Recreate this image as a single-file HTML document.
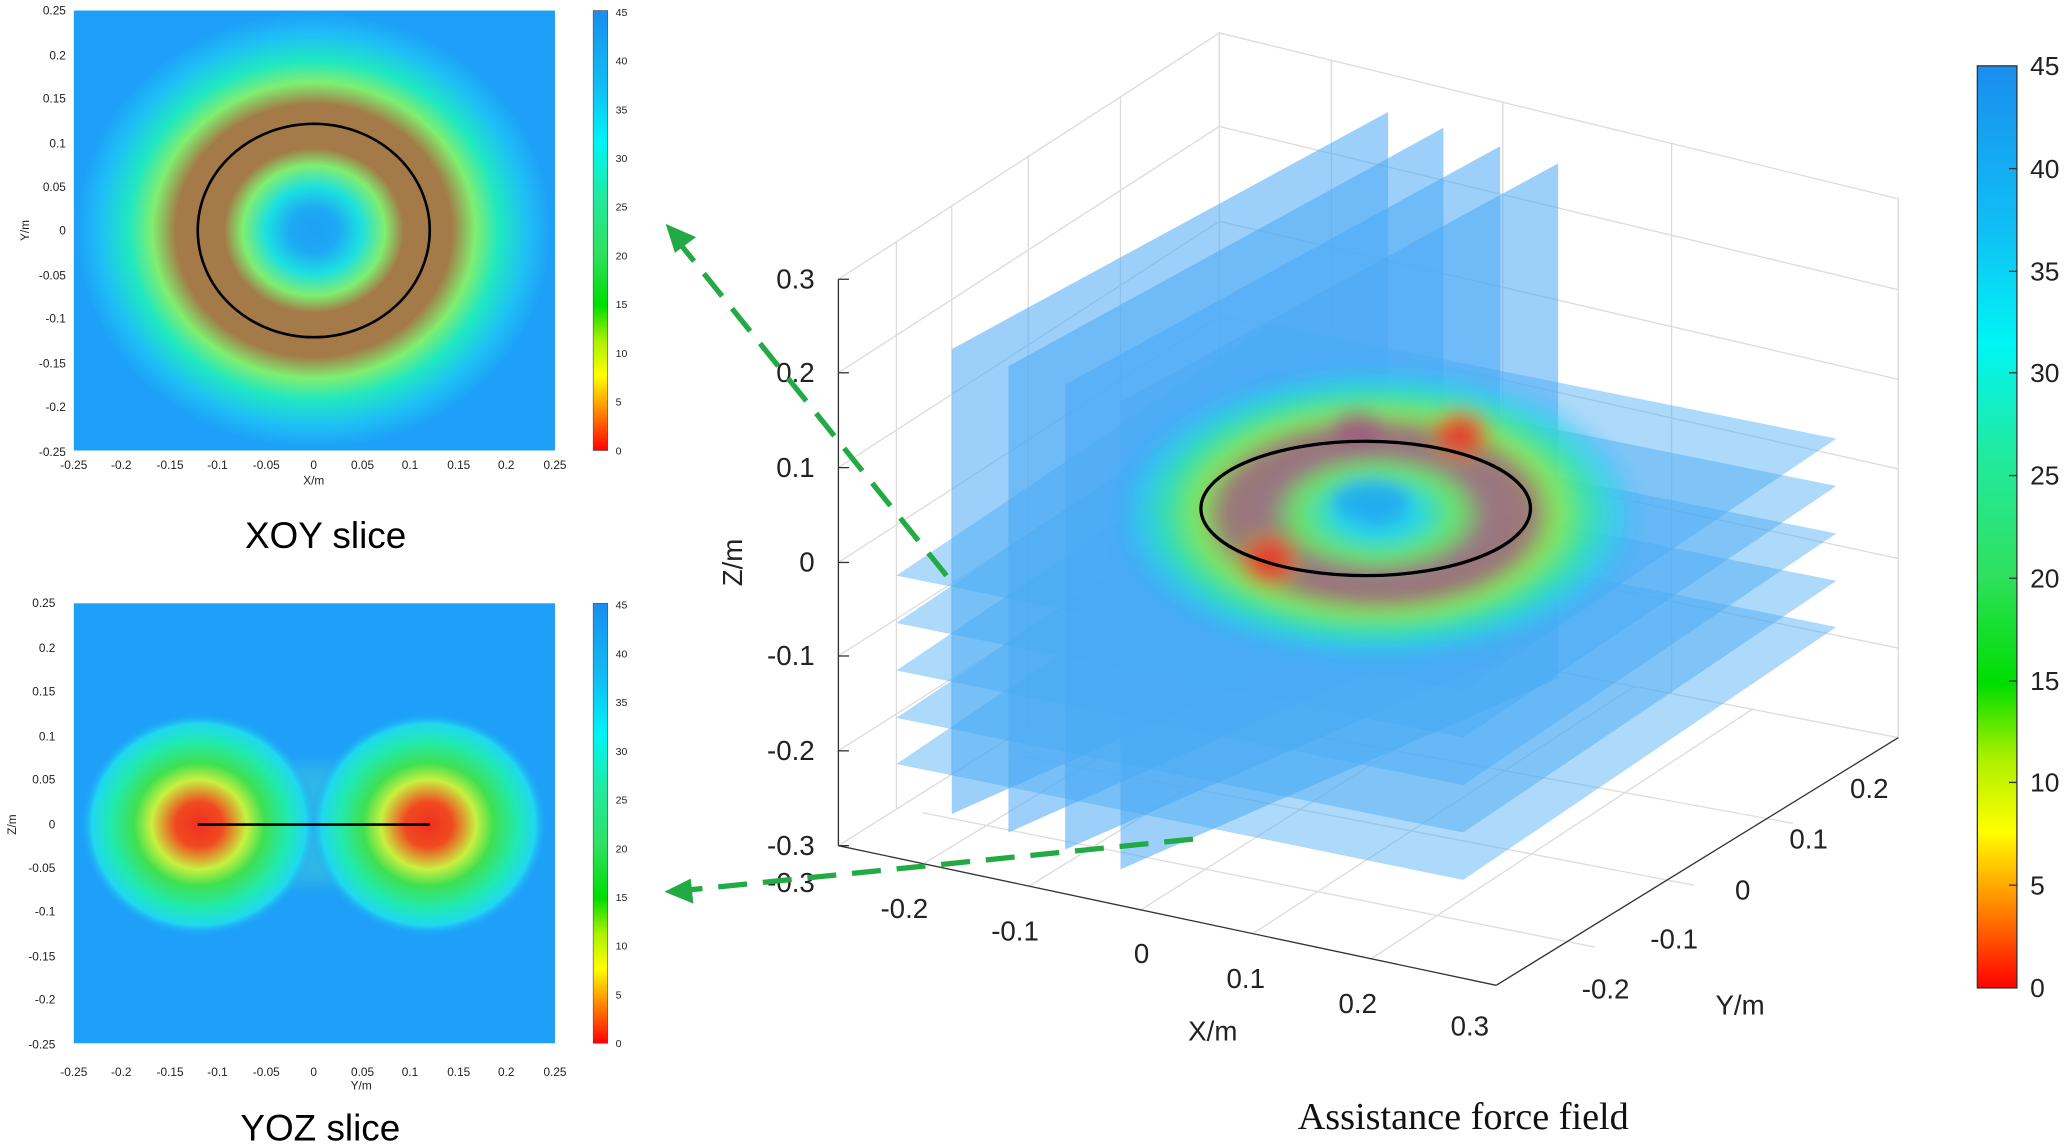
<!DOCTYPE html>
<html><head><meta charset="utf-8">
<style>html,body{margin:0;padding:0;background:#fff}svg{display:block}</style>
</head><body>
<svg width="2067" height="1146" viewBox="0 0 1568 870" preserveAspectRatio="none" xmlns="http://www.w3.org/2000/svg" font-family="Liberation Sans, Arial, sans-serif">
<defs>
<linearGradient id="cmap" x1="0" y1="1" x2="0" y2="0">
<stop offset="0" stop-color="#ff0000"/>
<stop offset="0.09" stop-color="#ff8a00"/>
<stop offset="0.17" stop-color="#ffff00"/>
<stop offset="0.25" stop-color="#aaf000"/>
<stop offset="0.33" stop-color="#00dd00"/>
<stop offset="0.45" stop-color="#30e060"/>
<stop offset="0.58" stop-color="#20eaa0"/>
<stop offset="0.7" stop-color="#00f5f5"/>
<stop offset="0.82" stop-color="#10c0f5"/>
<stop offset="1" stop-color="#1a8eee"/>
</linearGradient>
<radialGradient id="xoy" cx="0.5" cy="0.5" r="0.5">
<stop offset="0" stop-color="#1ea0f5"/>
<stop offset="0.1" stop-color="#1ea8f5"/>
<stop offset="0.2" stop-color="#1ce0e0"/>
<stop offset="0.3" stop-color="#80ee70"/>
<stop offset="0.38" stop-color="#a37a48"/>
<stop offset="0.58" stop-color="#a37a48"/>
<stop offset="0.68" stop-color="#80ee70"/>
<stop offset="0.78" stop-color="#20e8c0"/>
<stop offset="0.9" stop-color="#1ec0f5"/>
<stop offset="1" stop-color="#1ea0f8"/>
</radialGradient>
<radialGradient id="blob" cx="0.5" cy="0.5" r="0.5">
<stop offset="0" stop-color="#ee3020"/>
<stop offset="0.2" stop-color="#f04a20"/>
<stop offset="0.4" stop-color="#c8f040"/>
<stop offset="0.55" stop-color="#40e050"/>
<stop offset="0.75" stop-color="#20eab0"/>
<stop offset="0.9" stop-color="#20d8f0"/>
<stop offset="1" stop-color="#1ea0f8" stop-opacity="0"/>
</radialGradient>
<radialGradient id="ring3d" cx="0.5" cy="0.5" r="0.5">
<stop offset="0" stop-color="#1ea8f5"/>
<stop offset="0.15" stop-color="#20e0e8"/>
<stop offset="0.3" stop-color="#70ee50"/>
<stop offset="0.42" stop-color="#a86a70"/>
<stop offset="0.58" stop-color="#a87060"/>
<stop offset="0.68" stop-color="#90f040"/>
<stop offset="0.8" stop-color="#30e8a0"/>
<stop offset="0.92" stop-color="#20d8f0" stop-opacity="0.6"/>
<stop offset="1" stop-color="#1ea0f8" stop-opacity="0"/>
</radialGradient>
<radialGradient id="red" cx="0.5" cy="0.5" r="0.5">
<stop offset="0" stop-color="#e83020"/>
<stop offset="0.5" stop-color="#e85030" stop-opacity="0.8"/>
<stop offset="1" stop-color="#80f040" stop-opacity="0"/>
</radialGradient>
<filter id="bl" x="-20%" y="-20%" width="140%" height="140%"><feGaussianBlur stdDeviation="6"/></filter>
</defs>

<!-- XOY panel -->
<rect x="56" y="8" width="365" height="334" fill="#1ea0f8"/>
<ellipse cx="238" cy="175" rx="180" ry="165" fill="url(#xoy)"/>
<ellipse cx="238" cy="175" rx="88" ry="81" fill="none" stroke="#000" stroke-width="2"/>
<rect x="450" y="8" width="11" height="334" fill="url(#cmap)" stroke="#555" stroke-width="0.5"/>
<g font-size="9" fill="#222" text-anchor="end">
<text x="50" y="11">0.25</text><text x="50" y="45">0.2</text><text x="50" y="78">0.15</text><text x="50" y="112">0.1</text><text x="50" y="145">0.05</text><text x="50" y="178">0</text><text x="50" y="212">-0.05</text><text x="50" y="245">-0.1</text><text x="50" y="279">-0.15</text><text x="50" y="312">-0.2</text><text x="50" y="346">-0.25</text>
</g>
<g font-size="9" fill="#222" text-anchor="middle">
<text x="56" y="356">-0.25</text><text x="92" y="356">-0.2</text><text x="129" y="356">-0.15</text><text x="165" y="356">-0.1</text><text x="202" y="356">-0.05</text><text x="238" y="356">0</text><text x="275" y="356">0.05</text><text x="311" y="356">0.1</text><text x="348" y="356">0.15</text><text x="384" y="356">0.2</text><text x="421" y="356">0.25</text>
<text x="238" y="368">X/m</text>
</g>
<text x="22" y="175" font-size="9" fill="#222" text-anchor="middle" transform="rotate(-90 22 175)">Y/m</text>
<g font-size="8" fill="#222">
<text x="467" y="12">45</text><text x="467" y="49">40</text><text x="467" y="86">35</text><text x="467" y="123">30</text><text x="467" y="160">25</text><text x="467" y="197">20</text><text x="467" y="234">15</text><text x="467" y="271">10</text><text x="467" y="308">5</text><text x="467" y="345">0</text>
</g>
<text x="247" y="416" font-size="28" fill="#000" text-anchor="middle">XOY slice</text>

<!-- YOZ panel -->
<rect x="56" y="458" width="365" height="334" fill="#1ea0f8"/>
<ellipse cx="238" cy="626" rx="90" ry="45" fill="#40c8d8" opacity="0.55" filter="url(#bl)"/>
<ellipse cx="151" cy="626" rx="90" ry="85" fill="url(#blob)"/>
<ellipse cx="325" cy="626" rx="90" ry="85" fill="url(#blob)"/>
<line x1="150" y1="626" x2="326" y2="626" stroke="#000" stroke-width="2"/>
<rect x="450" y="458" width="11" height="334" fill="url(#cmap)" stroke="#555" stroke-width="0.5"/>
<g font-size="9" fill="#222" text-anchor="end">
<text x="42" y="461">0.25</text><text x="42" y="495">0.2</text><text x="42" y="528">0.15</text><text x="42" y="562">0.1</text><text x="42" y="595">0.05</text><text x="42" y="629">0</text><text x="42" y="662">-0.05</text><text x="42" y="695">-0.1</text><text x="42" y="729">-0.15</text><text x="42" y="762">-0.2</text><text x="42" y="796">-0.25</text>
</g>
<g font-size="9" fill="#222" text-anchor="middle">
<text x="56" y="817">-0.25</text><text x="92" y="817">-0.2</text><text x="129" y="817">-0.15</text><text x="165" y="817">-0.1</text><text x="202" y="817">-0.05</text><text x="238" y="817">0</text><text x="275" y="817">0.05</text><text x="311" y="817">0.1</text><text x="348" y="817">0.15</text><text x="384" y="817">0.2</text><text x="421" y="817">0.25</text>
<text x="274" y="827">Y/m</text>
</g>
<text x="12" y="626" font-size="9" fill="#222" text-anchor="middle" transform="rotate(-90 12 626)">Z/m</text>
<g font-size="8" fill="#222">
<text x="467" y="462">45</text><text x="467" y="499">40</text><text x="467" y="536">35</text><text x="467" y="573">30</text><text x="467" y="610">25</text><text x="467" y="647">20</text><text x="467" y="684">15</text><text x="467" y="721">10</text><text x="467" y="758">5</text><text x="467" y="795">0</text>
</g>
<text x="243" y="866" font-size="28" fill="#000" text-anchor="middle">YOZ slice</text>

<!-- 3D box grid -->
<g stroke="#dcdcdc" stroke-width="1" fill="none">
<polygon points="636,212 925,25 925,460 636,642"/>
<polygon points="925,25 1440,151 1440,560 925,460"/>
<line x1="680" y1="183" x2="680" y2="614"/><line x1="722" y1="156" x2="722" y2="587"/><line x1="780" y1="118" x2="780" y2="550"/><line x1="850" y1="73" x2="850" y2="505"/>
<line x1="1010" y1="46" x2="1010" y2="476"/><line x1="1140" y1="77" x2="1140" y2="501"/><line x1="1268" y1="109" x2="1268" y2="527"/>
<line x1="636" y1="283" x2="925" y2="96"/><line x1="636" y1="355" x2="925" y2="168"/><line x1="636" y1="427" x2="925" y2="240"/><line x1="636" y1="498" x2="925" y2="313"/><line x1="636" y1="570" x2="925" y2="386"/>
<line x1="925" y1="96" x2="1440" y2="220"/><line x1="925" y1="168" x2="1440" y2="288"/><line x1="925" y1="240" x2="1440" y2="356"/><line x1="925" y1="313" x2="1440" y2="424"/><line x1="925" y1="386" x2="1440" y2="492"/>
<line x1="700" y1="656" x2="1000" y2="474"/><line x1="780" y1="673" x2="1080" y2="489"/><line x1="865" y1="691" x2="1160" y2="505"/><line x1="950" y1="709" x2="1240" y2="521"/><line x1="1040" y1="728" x2="1330" y2="538"/>
<line x1="700" y1="617" x2="1210" y2="719"/><line x1="770" y1="573" x2="1285" y2="672"/><line x1="840" y1="530" x2="1360" y2="625"/>
</g>

<!-- vertical planes -->
<g fill="#4aaaf5" fill-opacity="0.55">
<polygon points="722,265 1053,85 1053,470 722,618"/>
<polygon points="765,278 1095,97 1095,485 765,632"/>
<polygon points="808,292 1138,111 1138,500 808,645"/>
<polygon points="850,305 1182,124 1182,515 850,660"/>
</g>
<!-- horizontal planes -->
<g fill="#4aaaf5" fill-opacity="0.45">
<polygon points="680,437 963,246 1393,333 1110,524"/>
<polygon points="680,473 963,282 1393,369 1110,560"/>
<polygon points="680,509 963,318 1393,405 1110,596"/>
<polygon points="680,545 963,354 1393,441 1110,632"/>
<polygon points="680,580 963,389 1393,476 1110,668"/>
</g>

<!-- field -->
<g filter="url(#bl)">
<ellipse cx="1045" cy="390" rx="200" ry="112" fill="url(#ring3d)" opacity="0.85"/>
<ellipse cx="1040" cy="380" rx="30" ry="16" fill="#20a8f0" opacity="0.8"/>
<ellipse cx="963" cy="425" rx="30" ry="28" fill="url(#red)"/>
<ellipse cx="1108" cy="330" rx="30" ry="26" fill="url(#red)"/>
<ellipse cx="1030" cy="325" rx="20" ry="14" fill="#a05080" opacity="0.6"/>
</g>
<ellipse cx="1036" cy="386" rx="125" ry="51" fill="none" stroke="#000" stroke-width="2.5"/>

<!-- axes -->
<g stroke="#333" stroke-width="1" fill="none">
<line x1="636" y1="212" x2="636" y2="642"/>
<line x1="636" y1="642" x2="1135" y2="748"/>
<line x1="1135" y1="748" x2="1440" y2="560"/>
<line x1="636" y1="212" x2="644" y2="212"/><line x1="636" y1="283" x2="644" y2="283"/><line x1="636" y1="355" x2="644" y2="355"/><line x1="636" y1="427" x2="644" y2="427"/><line x1="636" y1="498" x2="644" y2="498"/><line x1="636" y1="570" x2="644" y2="570"/><line x1="636" y1="642" x2="644" y2="642"/>
</g>
<g font-size="21" fill="#222" text-anchor="end">
<text x="618" y="219">0.3</text><text x="618" y="290">0.2</text><text x="618" y="362">0.1</text><text x="618" y="434">0</text><text x="618" y="505">-0.1</text><text x="618" y="577">-0.2</text><text x="618" y="649">-0.3</text>
</g>
<text x="563" y="427" font-size="21" fill="#222" text-anchor="middle" transform="rotate(-90 563 427)">Z/m</text>
<g font-size="21" fill="#222" text-anchor="middle">
<text x="600" y="677">-0.3</text><text x="686" y="697">-0.2</text><text x="770" y="714">-0.1</text><text x="866" y="731">0</text><text x="945" y="750">0.1</text><text x="1030" y="769">0.2</text><text x="1115" y="786">0.3</text>
<text x="920" y="790">X/m</text>
<text x="1218" y="758">-0.2</text><text x="1270" y="720">-0.1</text><text x="1322" y="683">0</text><text x="1372" y="644">0.1</text><text x="1418" y="606">0.2</text>
<text x="1320" y="770">Y/m</text>
</g>

<!-- colorbar -->
<rect x="1500" y="50" width="30" height="700" fill="url(#cmap)" stroke="#333" stroke-width="1"/>
<g font-size="20" fill="#222">
<text x="1540" y="57">45</text><text x="1540" y="135">40</text><text x="1540" y="213">35</text><text x="1540" y="290">30</text><text x="1540" y="368">25</text><text x="1540" y="446">20</text><text x="1540" y="524">15</text><text x="1540" y="601">10</text><text x="1540" y="679">5</text><text x="1540" y="757">0</text>
</g>
<g stroke="#333"><line x1="1524" y1="128" x2="1530" y2="128"/><line x1="1524" y1="206" x2="1530" y2="206"/><line x1="1524" y1="283" x2="1530" y2="283"/><line x1="1524" y1="361" x2="1530" y2="361"/><line x1="1524" y1="439" x2="1530" y2="439"/><line x1="1524" y1="517" x2="1530" y2="517"/><line x1="1524" y1="594" x2="1530" y2="594"/><line x1="1524" y1="672" x2="1530" y2="672"/></g>

<!-- arrows -->
<g stroke="#22aa44" stroke-width="4" stroke-dasharray="22 12" fill="none">
<line x1="718" y1="437" x2="515" y2="184"/>
<line x1="905" y1="637" x2="518" y2="676"/>
</g>
<polygon points="505,170 528,180 512,192" fill="#22aa44"/>
<polygon points="504,677 524,667 526,686" fill="#22aa44"/>

<text x="1110" y="857" font-size="29" fill="#111" text-anchor="middle" font-family="Liberation Serif, serif">Assistance force field</text>
</svg>
</body></html>
